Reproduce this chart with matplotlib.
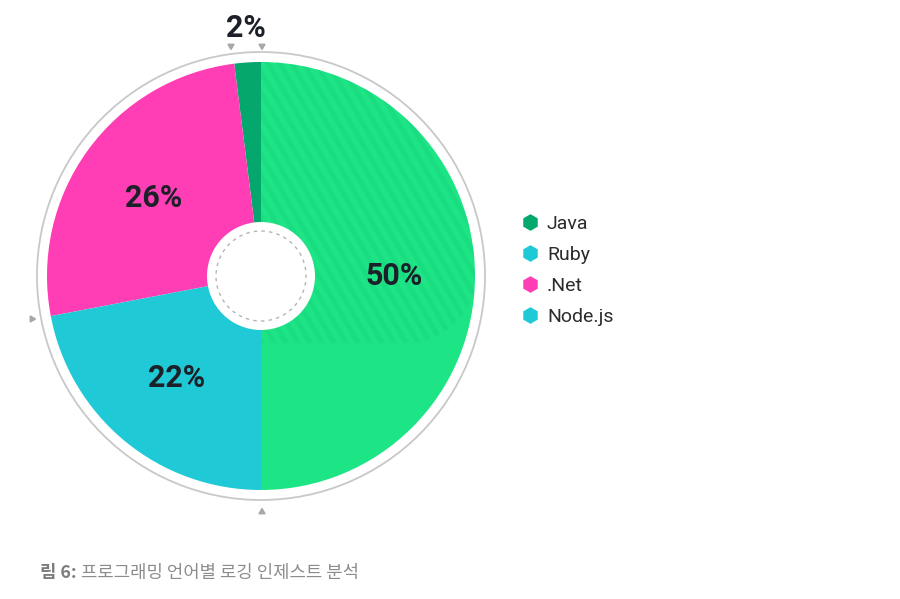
import numpy as np
import matplotlib.pyplot as plt
from matplotlib.patches import Circle, RegularPolygon
from matplotlib.lines import Line2D

# legend order
languages = ['Java', 'Ruby', '.Net', 'Node.js']
shares = [2, 22, 26, 50]
slice_colors = ['#05a86c', '#1fcad6', '#ff3db4', '#1de586']
legend_colors = ['#05a86c', '#1fcad6', '#ff3db4', '#1fcad6']
# drawing order (counter-clockwise from 12 o'clock)
draw_order = ['Java', '.Net', 'Ruby', 'Node.js']
caption_bold = '림 6:'
caption_rest = '프로그래밍 언어별 로깅 인제스트 분석'

plt.rcParams['font.family'] = ['Roboto', 'DejaVu Sans']

fig = plt.figure(figsize=(9, 5.99), dpi=100)
ax = fig.add_axes([0, 0, 1, 1])

cx, cy, R = 261, 323, 214
idx = [languages.index(n) for n in draw_order]
vals = [shares[i] for i in idx]
cols = [slice_colors[i] for i in idx]

wedges, _ = ax.pie(vals, colors=cols, startangle=90, counterclock=True,
                   center=(cx, cy), radius=R, frame=True,
                   wedgeprops=dict(linewidth=0))
ax.set_xlim(0, 900)
ax.set_ylim(0, 599)
ax.axis('off')

# faint diagonal stripes on the upper part of the big slice
big = wedges[draw_order.index('Node.js')]
x0, x1, y0, y1 = 255, 480, 250, 545
xs = np.arange(x0, x1, 0.5)
ys = np.arange(y0, y1, 0.5)
X, Y = np.meshgrid(xs, ys)
ypx = 599 - Y
stripe = np.mod(X - 0.58 * ypx, 12.0) < 5.5
# rounded-corner region (flat bottom, rounded bottom-right)
rc = 70.0
ccx, ccy = 476 - rc, 343 - rc
inside = (X <= 476) & (ypx <= 343)
corner = (X > ccx) & (ypx > ccy)
inside &= ~corner | ((X - ccx) ** 2 + (ypx - ccy) ** 2 <= rc ** 2)
rgba = np.zeros(X.shape + (4,))
rgba[..., 0] = 0x19 / 255
rgba[..., 1] = 0xd6 / 255
rgba[..., 2] = 0x7e / 255
rgba[..., 3] = (stripe & inside) * 0.55
im = ax.imshow(rgba, extent=(x0, x1, y0, y1), origin='lower',
               interpolation='antialiased', zorder=1.5, aspect='auto')
im.set_clip_path(big)
ax.set_xlim(0, 900)
ax.set_ylim(0, 599)

# center hole
ax.add_patch(Circle((cx, cy), 54, facecolor='white', edgecolor='none', zorder=3))
ax.add_patch(Circle((cx, cy), 45, facecolor='none', edgecolor='#b5b5b5',
                    linewidth=1, linestyle=(0, (2.5, 3)), zorder=4))

# outer ring
ax.add_patch(Circle((cx, cy), 224, facecolor='none', edgecolor='#c8c8c8',
                    linewidth=1.3, zorder=2))

# small triangle markers around the ring
tri = '#a8a8a8'
ax.add_patch(RegularPolygon((231, 553), 3, radius=3.5, orientation=np.pi, color=tri))
ax.add_patch(RegularPolygon((262, 553), 3, radius=3.5, orientation=np.pi, color=tri))
ax.add_patch(RegularPolygon((32, 280), 3, radius=3.5, orientation=-np.pi / 2, color=tri))
ax.add_patch(RegularPolygon((262, 87), 3, radius=3.5, orientation=0, color=tri))

# percentage labels
for w, v in zip(wedges, vals):
    mid = np.deg2rad((w.theta1 + w.theta2) / 2)
    r = 0.62 * R if v > 5 else 1.16 * R
    ax.text(cx + r * np.cos(mid), cy + r * np.sin(mid), f'{v}%',
            ha='center', va='center', fontsize=22, fontweight='bold',
            color='#1c2129', zorder=5)

# legend
handles = [Line2D([], [], marker='h', linestyle='none', markersize=12,
                  markerfacecolor=c, markeredgecolor='none') for c in legend_colors]
ax.legend(handles, languages, loc='upper left', bbox_to_anchor=(0.558, 0.671),
          frameon=False, fontsize=14, labelspacing=0.68, handletextpad=0.3,
          handlelength=1.1, labelcolor='#2b2b2b')

# caption
t1 = ax.text(40, 26, caption_bold, fontsize=12.8, fontweight='bold', color='#7c7c7c',
             family=['Noto Sans CJK KR', 'DejaVu Sans'], va='center')
ax.annotate(caption_rest, xy=(1, 0.5), xycoords=t1, xytext=(3, 0),
            textcoords='offset points', fontsize=12.8, color='#8c8c8c',
            family=['Noto Sans CJK KR', 'DejaVu Sans'], va='center')

fig.savefig('out.png', dpi=100)
